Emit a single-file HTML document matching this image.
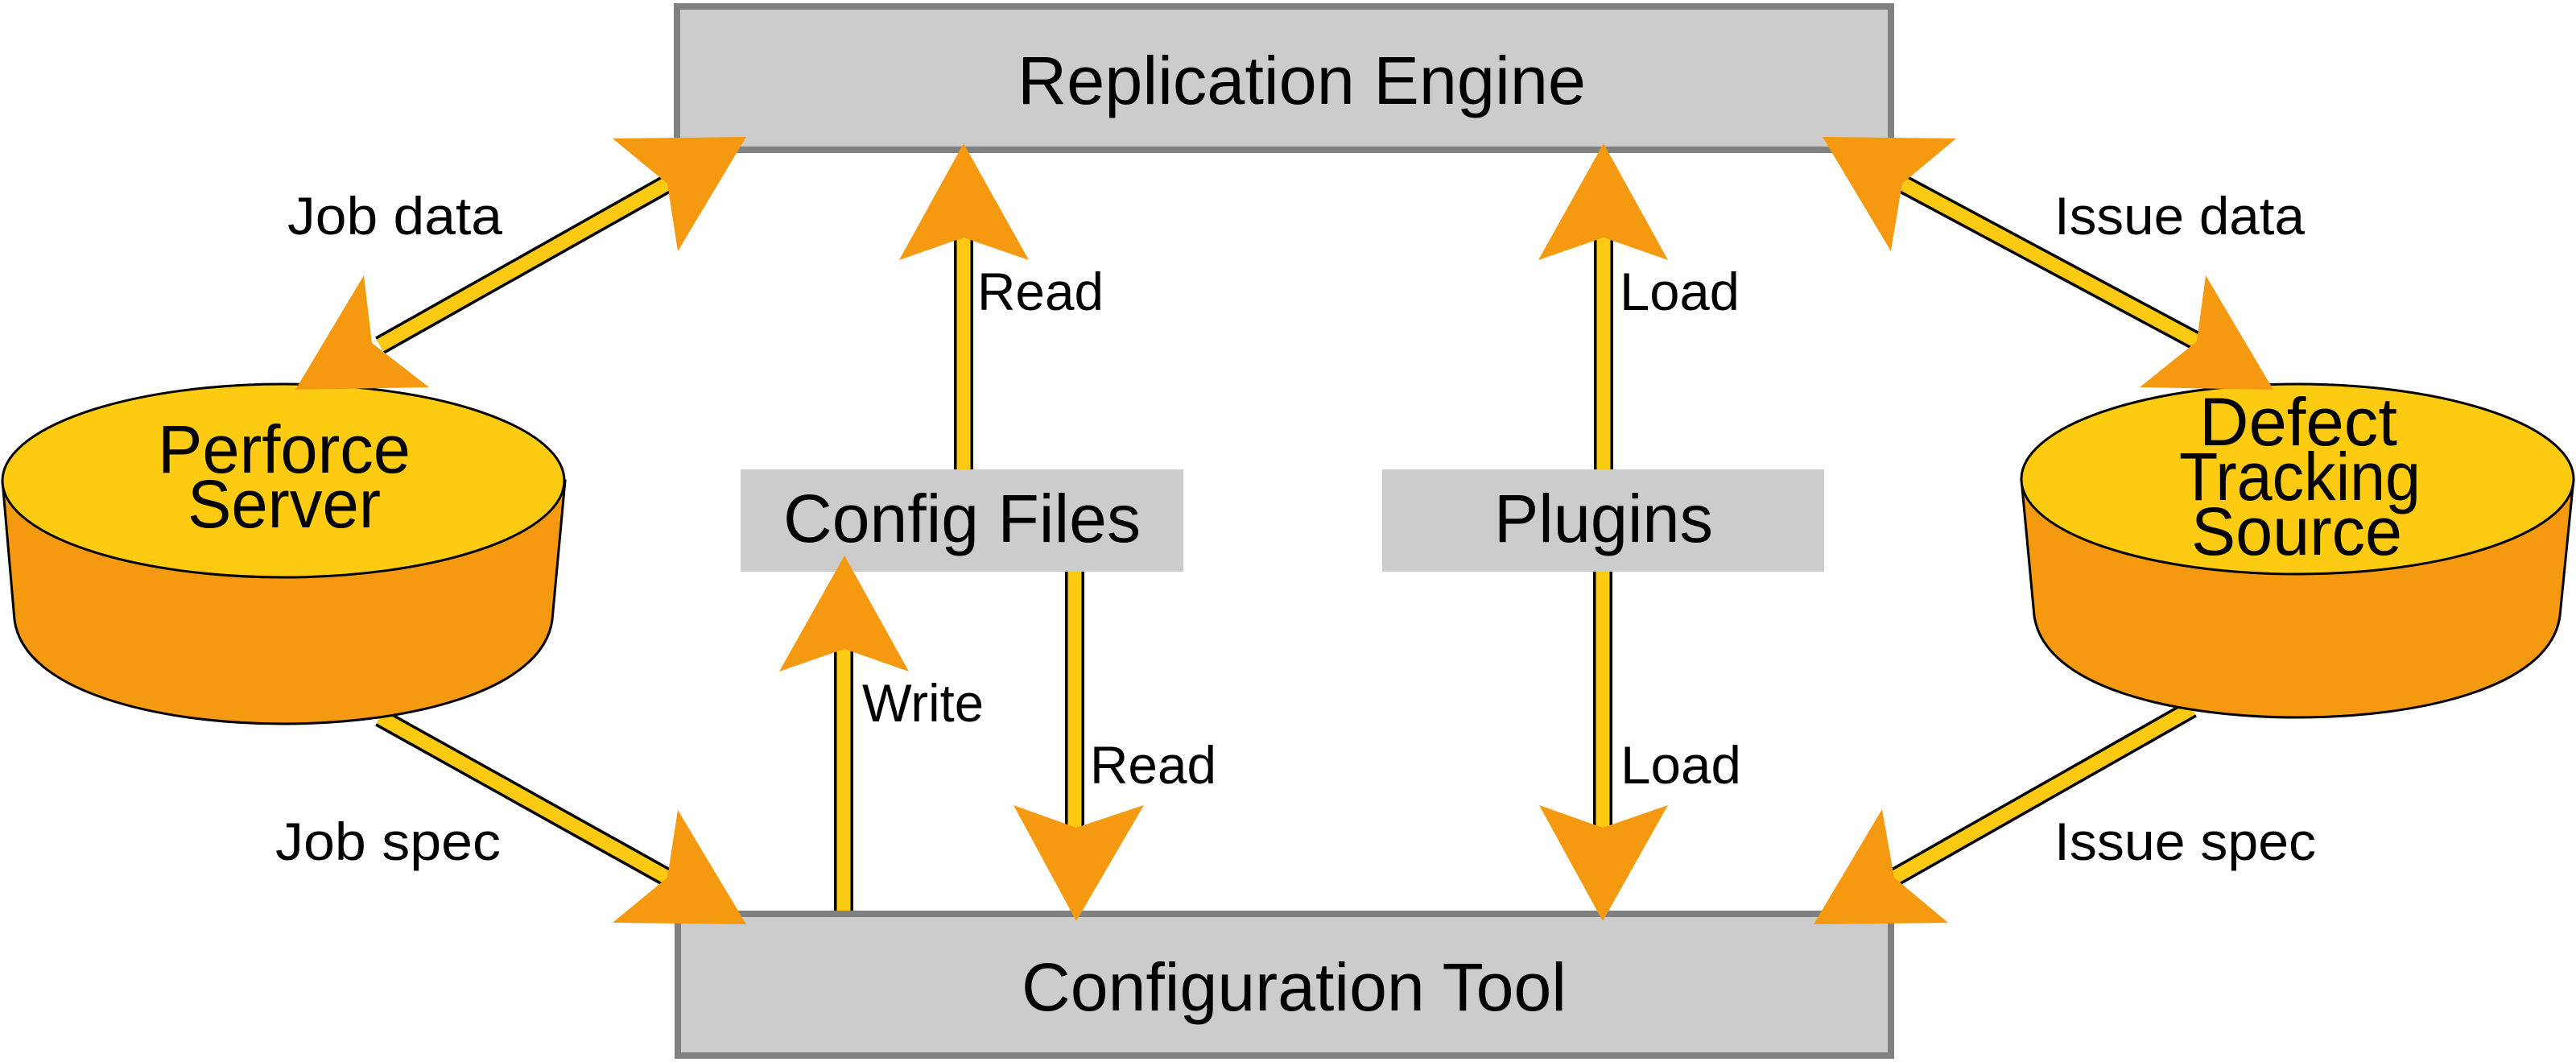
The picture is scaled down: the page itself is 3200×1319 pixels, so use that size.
<!DOCTYPE html>
<html><head><meta charset="utf-8"><style>
html,body{margin:0;padding:0;background:#fff;}
svg{display:block;}
text{font-family:"Liberation Sans",sans-serif;fill:#000;}
</style></head><body>
<svg width="3200" height="1319" viewBox="0 0 3200 1319" xmlns="http://www.w3.org/2000/svg">
<!-- main boxes -->
<rect x="841" y="8" width="1508" height="178" fill="#cccccc" stroke="#808080" stroke-width="8"/>
<rect x="842" y="1135" width="1507" height="176" fill="#cccccc" stroke="#808080" stroke-width="8"/>
<rect x="920" y="583" width="550" height="127" fill="#cccccc"/>
<rect x="1717" y="583" width="549" height="127" fill="#cccccc"/>

<!-- connector shafts -->
<g stroke="#000" stroke-width="24" fill="none">
<line x1="472" y1="429" x2="829" y2="228"/>
<line x1="472" y1="891" x2="829" y2="1090"/>
<line x1="2363" y1="228" x2="2729" y2="424"/>
<line x1="2723" y1="880" x2="2353" y2="1090"/>
<line x1="1197" y1="583" x2="1197" y2="290"/>
<line x1="1992" y1="583" x2="1992" y2="290"/>
<line x1="1048" y1="1131" x2="1048" y2="800"/>
<line x1="1335" y1="710" x2="1335" y2="1030"/>
<line x1="1991" y1="710" x2="1991" y2="1030"/>
</g>
<g stroke="#fcca12" stroke-width="17" fill="none">
<line x1="472" y1="429" x2="829" y2="228"/>
<line x1="472" y1="891" x2="829" y2="1090"/>
<line x1="2363" y1="228" x2="2729" y2="424"/>
<line x1="2723" y1="880" x2="2353" y2="1090"/>
<line x1="1197" y1="583" x2="1197" y2="290"/>
<line x1="1992" y1="583" x2="1992" y2="290"/>
<line x1="1048" y1="1131" x2="1048" y2="800"/>
<line x1="1335" y1="710" x2="1335" y2="1030"/>
<line x1="1991" y1="710" x2="1991" y2="1030"/>
</g>

<!-- cylinders -->
<g stroke="#000" stroke-width="3">
<path d="M3,597 L18,770 C30,860 200,899 352,899 C504,899 674,860 686,770 L702,597 Z" fill="#f59a10"/>
<ellipse cx="352" cy="597" rx="349" ry="120" fill="#fccb12"/>
<path d="M2511,595 L2527,765 C540,0 0,0 0,0" fill="none" stroke="none"/>
<path d="M2511,595 L2527,765 C2540,855 2705,891 2854,891 C3003,891 3168,855 3180,765 L3197,595 Z" fill="#f59a10"/>
<ellipse cx="2854" cy="595" rx="343" ry="118" fill="#fccb12"/>
</g>

<!-- arrowheads -->
<g fill="#f59a10">
<polygon points="927,170 761,172 829,228 842,312"/>
<polygon points="367,484 452,342 462,426 533,481"/>
<polygon points="927,1148 842,1006 829,1090 761,1146"/>
<polygon points="2264,170 2430,172 2363,228 2349,312"/>
<polygon points="2824,484 2740,342 2729,424 2658,481"/>
<polygon points="2253,1148 2338,1005 2353,1090 2420,1146"/>
<polygon points="1197,178 1117,323 1197,295 1278,323"/>
<polygon points="1992,178 1911,323 1992,295 2072,323"/>
<polygon points="1049,690 968,834 1049,806 1129,834"/>
<polygon points="1337,1144 1259,1000 1337,1028 1421,1000"/>
<polygon points="1991,1144 1912,1000 1991,1028 2072,1000"/>
</g>

<!-- labels -->
<text x="1264" y="129" font-size="84" textLength="706" lengthAdjust="spacingAndGlyphs">Replication Engine</text>
<text x="1269" y="1255" font-size="84" textLength="677" lengthAdjust="spacingAndGlyphs">Configuration Tool</text>
<text x="973" y="673" font-size="84" textLength="444" lengthAdjust="spacingAndGlyphs">Config Files</text>
<text x="1856" y="673" font-size="84" textLength="272" lengthAdjust="spacingAndGlyphs">Plugins</text>
<text x="196" y="587" font-size="84" textLength="314" lengthAdjust="spacingAndGlyphs">Perforce</text>
<text x="233" y="655" font-size="84" textLength="240" lengthAdjust="spacingAndGlyphs">Server</text>
<text x="2732" y="553" font-size="84" textLength="246" lengthAdjust="spacingAndGlyphs">Defect</text>
<text x="2707" y="621" font-size="84" textLength="300" lengthAdjust="spacingAndGlyphs">Tracking</text>
<text x="2722" y="689" font-size="84" textLength="262" lengthAdjust="spacingAndGlyphs">Source</text>

<text x="357" y="291" font-size="66" textLength="267" lengthAdjust="spacingAndGlyphs">Job data</text>
<text x="342" y="1068" font-size="66" textLength="280" lengthAdjust="spacingAndGlyphs">Job spec</text>
<text x="2552" y="291" font-size="66" textLength="311" lengthAdjust="spacingAndGlyphs">Issue data</text>
<text x="2552" y="1068" font-size="66" textLength="325" lengthAdjust="spacingAndGlyphs">Issue spec</text>
<text x="1214" y="385" font-size="66" textLength="157" lengthAdjust="spacingAndGlyphs">Read</text>
<text x="2012" y="385" font-size="66" textLength="149" lengthAdjust="spacingAndGlyphs">Load</text>
<text x="1071" y="896" font-size="66" textLength="151" lengthAdjust="spacingAndGlyphs">Write</text>
<text x="1354" y="973" font-size="66" textLength="157" lengthAdjust="spacingAndGlyphs">Read</text>
<text x="2013" y="973" font-size="66" textLength="150" lengthAdjust="spacingAndGlyphs">Load</text>
</svg>
</body></html>
